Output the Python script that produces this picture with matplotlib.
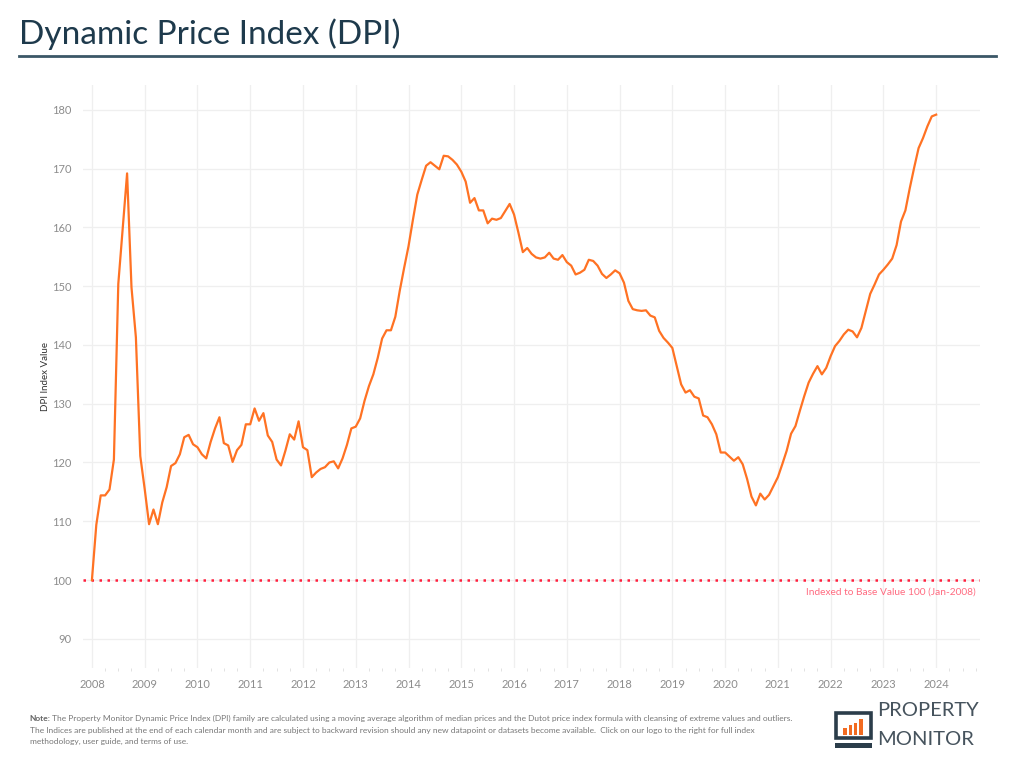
import matplotlib.pyplot as plt
from matplotlib.patches import Rectangle
import numpy as np

plt.rcParams["font.family"] = ["Lato", "DejaVu Sans"]

# monthly DPI values, Jan-2008 .. Jan-2024
dpi_2008 = [100.0, 109.4, 114.4, 114.4, 115.4, 120.5, 150.4, 159.8, 169.2, 149.8, 141.3, 121.1]
dpi_2009 = [115.5, 109.5, 112.0, 109.5, 113.2, 115.8, 119.4, 119.9, 121.4, 124.3, 124.7, 123.1]
dpi_2010 = [122.6, 121.4, 120.7, 123.5, 125.8, 127.7, 123.3, 122.9, 120.1, 122.1, 123.0, 126.5]
dpi_2011 = [126.5, 129.2, 127.1, 128.4, 124.6, 123.5, 120.5, 119.5, 122.0, 124.8, 123.9, 127.0]
dpi_2012 = [122.6, 122.1, 117.5, 118.3, 118.9, 119.2, 120.0, 120.2, 119.0, 120.7, 123.0, 125.8]
dpi_2013 = [126.1, 127.5, 130.5, 133.0, 135.0, 137.8, 141.1, 142.5, 142.5, 144.8, 149.2, 153.1]
dpi_2014 = [156.8, 161.3, 165.6, 168.1, 170.5, 171.1, 170.5, 169.9, 172.2, 172.1, 171.5, 170.7]
dpi_2015 = [169.5, 167.8, 164.2, 165.0, 162.9, 162.9, 160.7, 161.5, 161.3, 161.6, 162.8, 164.0]
dpi_2016 = [162.2, 159.1, 155.8, 156.5, 155.5, 154.9, 154.7, 154.9, 155.7, 154.7, 154.5, 155.3]
dpi_2017 = [154.1, 153.5, 152.0, 152.3, 152.8, 154.5, 154.3, 153.5, 152.1, 151.4, 152.0, 152.7]
dpi_2018 = [152.2, 150.6, 147.5, 146.1, 145.9, 145.8, 145.9, 145.0, 144.7, 142.4, 141.2, 140.4]
dpi_2019 = [139.5, 136.4, 133.3, 131.9, 132.3, 131.2, 130.9, 128.0, 127.7, 126.5, 124.8, 121.7]
dpi_2020 = [121.7, 121.0, 120.3, 120.9, 119.7, 117.2, 114.2, 112.7, 114.7, 113.7, 114.5, 116.0]
dpi_2021 = [117.5, 119.7, 122.0, 124.9, 126.2, 128.8, 131.3, 133.6, 135.1, 136.4, 135.0, 136.1]
dpi_2022 = [138.1, 139.8, 140.7, 141.8, 142.6, 142.3, 141.3, 142.9, 145.8, 148.7, 150.3, 152.0]
dpi_2023 = [152.8, 153.7, 154.7, 157.0, 161.0, 162.9, 166.7, 170.2, 173.5, 175.2, 177.2, 178.9]
dpi_2024 = [179.2]

values = (dpi_2008 + dpi_2009 + dpi_2010 + dpi_2011 + dpi_2012 + dpi_2013 + dpi_2014
          + dpi_2015 + dpi_2016 + dpi_2017 + dpi_2018 + dpi_2019 + dpi_2020 + dpi_2021
          + dpi_2022 + dpi_2023 + dpi_2024)
dates = 2008 + np.arange(len(values)) / 12.0

years = list(range(2008, 2025))
y_ticks = [90, 100, 110, 120, 130, 140, 150, 160, 170, 180]
base_value = 100

fig = plt.figure(figsize=(10.24, 7.68), dpi=100)
ax = fig.add_axes([0.081, 0.130, 0.876, 0.759])

ax.plot(dates, values, color="#ff7223", linewidth=1.6, zorder=3)
ax.axhline(base_value, color="#ff1f3d", linewidth=1.8, linestyle=(0, (1, 2.2)), zorder=2)
ax.text(2024.75, base_value - 1.3, "Indexed to Base Value 100 (Jan-2008)",
        color="#ff6b80", fontsize=7.3, ha="right", va="top")

ax.set_xlim(2007.83, 2024.83)
ax.set_ylim(85, 184.2)
ax.set_xticks(years)
ax.set_xticklabels([str(y) for y in years])
ax.set_xticks(np.arange(2008, 2024.9, 0.25), minor=True)
ax.set_yticks(y_ticks)

ax.grid(True, which="major", color="#efefef", linewidth=0.9)
ax.set_axisbelow(True)
for s in ax.spines.values():
    s.set_visible(False)
ax.tick_params(axis="both", which="major", length=0, labelsize=8, labelcolor="#8c8c8c", pad=8)
ax.tick_params(axis="x", which="minor", length=2, color="#dddddd")
ax.tick_params(axis="x", which="major", length=0)
ax.set_ylabel("DPI Index Value", fontsize=7, color="#333333", labelpad=2)

# title + rule
fig.text(0.019, 0.955, "Dynamic Price Index (DPI)", fontsize=24, color="#1e3a4c",
         ha="left", va="center")
fig.add_artist(plt.Line2D([0.019, 0.973], [0.927, 0.927], color="#3b5767", linewidth=2))

# footer note
fig.text(0.029, 0.065, "Note:", fontsize=6, color="#666666", fontweight="bold", ha="left", va="center")
fig.text(0.0505, 0.065, "The Property Monitor Dynamic Price Index (DPI) family are calculated using a moving average "
         "algorithm of median prices and the Dutot price index formula with cleansing of extreme values and outliers.",
         fontsize=6, color="#777777", ha="left", va="center")
fig.text(0.029, 0.049, "The Indices are published at the end of each calendar month and are subject to backward revision "
         "should any new datapoint or datasets become available.  Click on our logo to the right for full index",
         fontsize=6, color="#777777", ha="left", va="center")
fig.text(0.029, 0.034, "methodology, user guide, and terms of use.", fontsize=6, color="#777777",
         ha="left", va="center")

# logo
fig.add_artist(Rectangle((0.8165, 0.039), 0.034, 0.032, transform=fig.transFigure,
                         facecolor="none", edgecolor="#2b3d4a", linewidth=2.6))
fig.add_artist(Rectangle((0.8155, 0.026), 0.036, 0.006, transform=fig.transFigure,
                         facecolor="#2b3d4a", edgecolor="none"))
for i, h in enumerate([0.009, 0.013, 0.016, 0.021]):
    fig.add_artist(Rectangle((0.8235 + i * 0.0052, 0.043), 0.0032, h, transform=fig.transFigure,
                             facecolor="#f26b21", edgecolor="none"))
fig.text(0.857, 0.075, "PROPERTY", fontsize=14.5, color="#46535d", ha="left", va="center")
fig.text(0.857, 0.037, "MONITOR", fontsize=14.5, color="#46535d", ha="left", va="center")

fig.savefig("out.png", dpi=100)
